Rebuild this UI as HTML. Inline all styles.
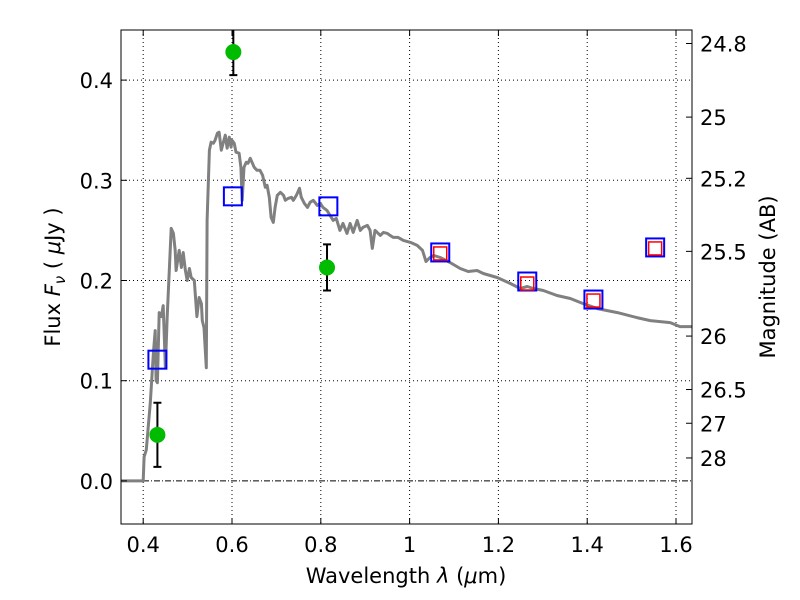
<!DOCTYPE html>
<html><head><meta charset="utf-8"><style>
body{margin:0;background:#fff;}
svg{display:block;font-family:"DejaVu Sans","Liberation Sans",sans-serif;}
</style></head><body>
<svg id="c" width="800" height="600" xmlns="http://www.w3.org/2000/svg"></svg>
<script>
const specX=[0.35,0.40,0.402,0.407,0.416,0.423,0.427,0.429,0.432,0.436,0.441,0.445,0.45,0.454,0.463,0.468,0.472,0.474,0.481,0.486,0.49,0.495,0.499,0.504,0.508,0.515,0.521,0.526,0.531,0.533,0.537,0.542,0.544,0.549,0.553,0.558,0.562,0.567,0.571,0.576,0.58,0.585,0.589,0.594,0.598,0.60,0.605,0.609,0.616,0.62,0.623,0.627,0.632,0.636,0.641,0.645,0.65,0.656,0.663,0.669,0.675,0.679,0.684,0.688,0.693,0.697,0.702,0.709,0.716,0.72,0.727,0.734,0.738,0.745,0.752,0.756,0.763,0.77,0.776,0.783,0.792,0.799,0.805,0.814,0.821,0.828,0.835,0.843,0.85,0.859,0.866,0.873,0.882,0.889,0.895,0.905,0.911,0.916,0.922,0.927,0.934,0.941,0.95,0.956,0.963,0.974,0.986,1.002,1.017,1.029,1.037,1.046,1.055,1.069,1.091,1.114,1.132,1.152,1.166,1.197,1.227,1.249,1.265,1.279,1.301,1.332,1.362,1.391,1.423,1.468,1.512,1.542,1.587,1.609,1.636];
const specY=[0,0,0.024,0.031,0.078,0.128,0.150,0.10,0.098,0.168,0.164,0.175,0.113,0.164,0.252,0.247,0.230,0.21,0.23,0.213,0.228,0.21,0.20,0.212,0.203,0.20,0.164,0.183,0.177,0.16,0.153,0.113,0.26,0.33,0.338,0.337,0.34,0.347,0.348,0.33,0.337,0.345,0.332,0.343,0.333,0.34,0.337,0.328,0.327,0.313,0.28,0.313,0.318,0.317,0.322,0.318,0.313,0.31,0.31,0.305,0.293,0.295,0.283,0.263,0.258,0.273,0.285,0.288,0.285,0.28,0.282,0.283,0.28,0.285,0.292,0.283,0.277,0.273,0.278,0.28,0.275,0.277,0.273,0.27,0.265,0.26,0.262,0.25,0.257,0.247,0.257,0.248,0.26,0.25,0.253,0.255,0.25,0.232,0.25,0.248,0.245,0.248,0.247,0.245,0.243,0.243,0.24,0.238,0.235,0.23,0.219,0.223,0.225,0.223,0.218,0.212,0.209,0.21,0.207,0.203,0.197,0.192,0.194,0.192,0.19,0.185,0.182,0.177,0.172,0.168,0.163,0.16,0.158,0.154,0.154];
const modelX=[0.432,0.602,0.817,1.069,1.265,1.414,1.553];
const modelY=[0.121,0.284,0.274,0.228,0.199,0.181,0.233];
const model2X=[1.069,1.265,1.414,1.553];
const model2Y=[0.227,0.197,0.180,0.232];
const obsX=[0.432,0.603,0.814];
const obsY=[0.046,0.428,0.213];
const obsErr=[0.032,0.023,0.023];
const xTicks=[0.4,0.6,0.8,1.0,1.2,1.4,1.6];
const xTickLabels=["0.4","0.6","0.8","1","1.2","1.4","1.6"];
const yTicks=[0.0,0.1,0.2,0.3,0.4];
const yTickLabels=["0.0","0.1","0.2","0.3","0.4"];
const magTicks=[24.8,25,25.2,25.5,26,26.5,27,28];
const magTickLabels=["24.8","25","25.2","25.5","26","26.5","27","28"];

const L=121,R=692,T=30,B=524,X0=0.35,X1=1.636,Y0=-0.043,Y1=0.450;
const sx=v=>L+(v-X0)/(X1-X0)*(R-L);
const sy=v=>B-(v-Y0)/(Y1-Y0)*(B-T);
const NS="http://www.w3.org/2000/svg";
const svg=document.getElementById('c');
function mk(tag,attrs,parent){const e=document.createElementNS(NS,tag);for(const k in attrs)e.setAttribute(k,attrs[k]);(parent||svg).appendChild(e);return e;}
const defs=mk('defs',{});const cp=mk('clipPath',{id:'clip'},defs);mk('rect',{x:L,y:T,width:R-L,height:B-T},cp);
const plot=mk('g',{'clip-path':'url(#clip)'});


xTicks.forEach(v=>{const g=mk('line',{x1:sx(v),x2:sx(v),y1:T,y2:B,stroke:'#000','stroke-width':1,'stroke-dasharray':'1,3'},plot);

});
yTicks.forEach(v=>{if(v===0)return;const g=mk('line',{x1:L,x2:R,y1:sy(v),y2:sy(v),stroke:'#000','stroke-width':1,'stroke-dasharray':'1,3'},plot);

});
const zl=mk('line',{x1:L,x2:R,y1:sy(0),y2:sy(0),stroke:'#000','stroke-width':1,'stroke-dasharray':'6,2,1,2'},plot);


let d='';specX.forEach((x,i)=>{d+=(i?'L':'M')+sx(x).toFixed(1)+','+sy(specY[i]).toFixed(1);});
const sp=mk('path',{d:d,fill:'none',stroke:'#808080','stroke-width':3,'stroke-linejoin':'round'},plot);


modelX.forEach((x,i)=>{const r=mk('rect',{x:sx(x)-9,y:sy(modelY[i])-9,width:18,height:18,fill:'none',stroke:'#0000ff','stroke-width':2},plot);

});
model2X.forEach((x,i)=>{const r=mk('rect',{x:sx(x)-6.5,y:sy(model2Y[i])-6.5,width:13,height:13,fill:'none',stroke:'#ff0000','stroke-width':1.5},plot);

});
obsX.forEach((x,i)=>{const px=sx(x),y1=sy(obsY[i]+obsErr[i]),y2=sy(obsY[i]-obsErr[i]);
const e=mk('path',{d:`M${px},${y1}V${y2}M${px-4},${y1}h8M${px-4},${y2}h8`,stroke:'#000','stroke-width':2,fill:'none'},plot);


const c=mk('circle',{cx:px,cy:sy(obsY[i]),r:8,fill:'#00bb00'},plot);

});
const fr=mk('rect',{x:L,y:T,width:R-L,height:B-T,fill:'none',stroke:'#000','stroke-width':1});


xTicks.forEach((v,i)=>{const x=sx(v);mk('path',{d:`M${x},${B}v-6M${x},${T}v6`,stroke:'#000'});
const t=mk('text',{x:x,y:B+28,'text-anchor':'middle','font-size':21});t.textContent=xTickLabels[i];

});
yTicks.forEach((v,i)=>{const y=sy(v);mk('path',{d:`M${L},${y}h6`,stroke:'#000'});
const t=mk('text',{x:L-8,y:y+8,'text-anchor':'end','font-size':21});t.textContent=yTickLabels[i];

});
magTicks.forEach((m,i)=>{const y=sy(Math.pow(10,(23.9-m)/2.5));mk('path',{d:`M${R},${y}h-6`,stroke:'#000'});
const t=mk('text',{x:R+8,y:y+8,'font-size':21});t.textContent=magTickLabels[i];

});
</script>
<svg width="800" height="600" style="position:absolute;left:0;top:0;font-family:'DejaVu Sans','Liberation Sans',sans-serif">
<text x="406" y="583" text-anchor="middle" font-size="21">Wavelength  <tspan font-style="italic">λ</tspan> (<tspan font-style="italic">μ</tspan>m)</text>
<text transform="translate(60,277) rotate(-90)" text-anchor="middle" font-size="21">Flux  <tspan font-style="italic">F</tspan><tspan font-style="italic" font-size="15" dy="5">ν</tspan><tspan dy="-5">  ( </tspan><tspan font-style="italic">μ</tspan>Jy )</text>
<text transform="translate(775,277) rotate(-90)" text-anchor="middle" font-size="21">Magnitude (AB)</text>
</svg>
</body></html>
